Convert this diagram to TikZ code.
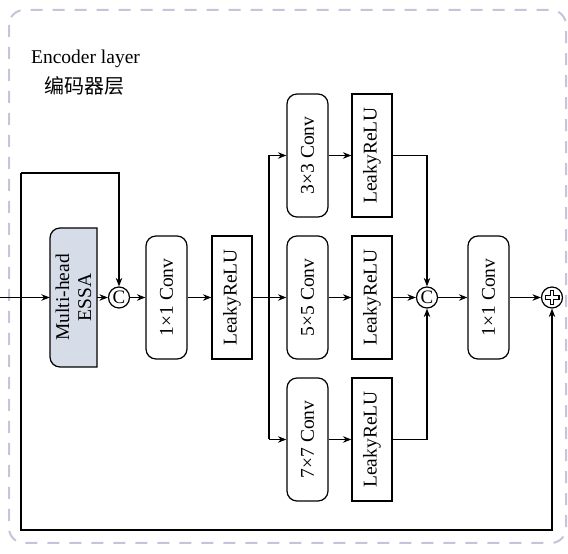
\documentclass[tikz,border=0pt]{standalone}
\usepackage{fontspec}
\setmainfont{Liberation Serif}
\newfontfamily\cjk{Noto Sans CJK SC}
\usetikzlibrary{arrows.meta}
\definecolor{essblue}{RGB}{214,221,233}
\definecolor{borderc}{RGB}{200,194,218}
\begin{document}
\begin{tikzpicture}[x=1pt,y=1pt,
  font=\fontsize{19.5}{22}\selectfont,
  conv/.style={draw, line width=1.2pt, rounded corners=10pt, rotate=90, minimum width=123pt, minimum height=41pt, inner sep=0pt},
  act/.style={draw, line width=1.2pt, rotate=90, minimum width=123pt, minimum height=40pt, inner sep=0pt},
  cat/.style={draw, circle, line width=1.2pt, minimum size=21pt, inner sep=0pt, font=\fontsize{19}{19}\selectfont},
  addc/.style={draw, circle, line width=1.2pt, minimum size=21pt, inner sep=0pt},
  link/.style={line width=1.2pt},
  arr/.style={link, -{Stealth[length=8.5pt,width=6.5pt]}},
]
\useasboundingbox (0,0) rectangle (568,554);
\draw[borderc, line width=2pt, dash pattern=on 12pt off 10pt, rounded corners=15pt] (9,544) rectangle (566,11);

\node (title) at (85.5,495) {Encoder layer};
\node (titlecn) at (85,468) {\fontsize{20}{22}\selectfont\cjk 编码器层};

\draw[fill=essblue, line width=1.2pt] (97,326) -- (60,326) arc[start angle=90,end angle=180,radius=10] -- (50,197) arc[start angle=180,end angle=270,radius=10] -- (97,187) -- cycle;
\node[rotate=90, minimum width=139pt, minimum height=47pt, inner sep=0pt, align=center] (ess) at (73.5,256.5) {Multi-head\\ESSA};

\node[cat] (c1) at (119,256.5) {C};
\node[conv] (conv1) at (166.5,256.5) {1×1 Conv};
\node[act] (lr1) at (232,256.5) {LeakyReLU};
\node[conv] (conv3) at (307.5,398.5) {3×3 Conv};
\node[conv] (conv5) at (307.5,256.5) {5×5 Conv};
\node[conv] (conv7) at (307.5,114.5) {7×7 Conv};
\node[act] (lr3) at (372,398.5) {LeakyReLU};
\node[act] (lr5) at (372,256.5) {LeakyReLU};
\node[act] (lr7) at (372,114.5) {LeakyReLU};
\node[cat] (c2) at (427,256.5) {C};
\node[conv] (conv1b) at (488.5,256.5) {1×1 Conv};
\node[addc] (plus) at (552,256.5) {};
\draw[line width=4.8pt] ([yshift=7.5pt]plus.center) -- ([yshift=-7.5pt]plus.center) ([xshift=-7.5pt]plus.center) -- ([xshift=7.5pt]plus.center);
\draw[white, line width=2.4pt] ([yshift=6.3pt]plus.center) -- ([yshift=-6.3pt]plus.center) ([xshift=-6.3pt]plus.center) -- ([xshift=6.3pt]plus.center);

\coordinate (in) at (0,256.5);
\coordinate (fbtl) at (21,381);
\coordinate (fbtr) at (119,381);
\coordinate (fbbl) at (21,24);
\coordinate (fbbr) at (552,24);
\coordinate (br3) at (269,398.5);
\coordinate (br7) at (269,114.5);
\coordinate (m3) at (427,398.5);
\coordinate (m7) at (427,114.5);

\draw[arr] (in) -- (ess);
\draw[arr] (fbtl) -- (fbtr) -- (c1);
\draw[arr] (fbtl) -- (fbbl) -- (fbbr) -- (plus);
\draw[arr] (ess) -- (c1);
\draw[arr] (c1) -- (conv1);
\draw[arr] (conv1) -- (lr1);
\draw[arr] (lr1) -- (conv5);
\draw[link] (br3) -- (br7);
\draw[arr] (br3) -- (conv3);
\draw[arr] (br7) -- (conv7);
\draw[arr] (conv3) -- (lr3);
\draw[arr] (conv5) -- (lr5);
\draw[arr] (conv7) -- (lr7);
\draw[arr] (lr3) -- (m3) -- (c2);
\draw[arr] (lr7) -- (m7) -- (c2);
\draw[arr] (lr5) -- (c2);
\draw[arr] (c2) -- (conv1b);
\draw[arr] (conv1b) -- (plus);
\end{tikzpicture}
\end{document}
